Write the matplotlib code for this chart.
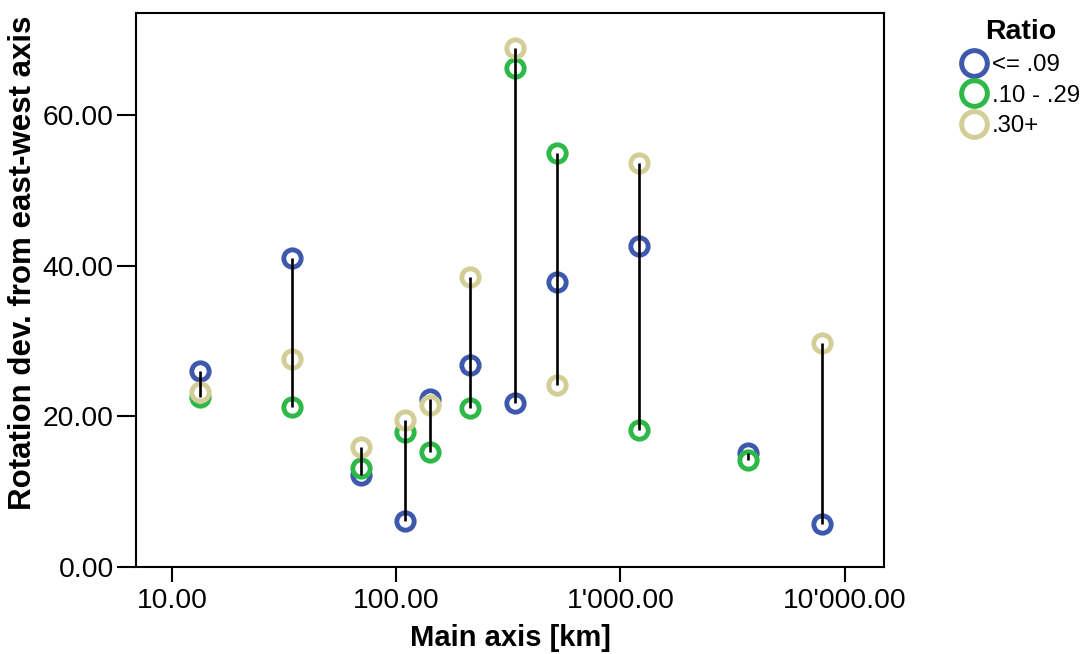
import numpy as np
import matplotlib
matplotlib.use("Agg")
import matplotlib.pyplot as plt
from matplotlib.lines import Line2D
from matplotlib.ticker import FixedLocator, FuncFormatter, NullLocator

plt.rcParams['font.family'] = ['Liberation Sans', 'DejaVu Sans']

# values
main_axis = [13.3, 34.4, 69.5, 110, 141.6, 214, 340, 523, 1207, 3700, 7900]
rot_low = [26.0, 41.1, 12.2, 6.1, 22.3, 26.9, 21.8, 37.9, 42.7, 15.2, 5.7]
rot_mid = [22.6, 21.2, 13.1, 17.9, 15.3, 21.1, 66.3, 55.0, 18.2, 14.2, np.nan]
rot_high = [23.3, 27.6, 15.9, 19.5, 21.5, 38.5, 68.9, 24.2, 53.7, np.nan, 29.7]

series = [
    ("<= .09", rot_low, "#3E58AC"),
    (".10 - .29", rot_mid, "#2EB848"),
    (".30+", rot_high, "#D3CE97"),
]
x_ticks = [10, 100, 1000, 10000]
y_ticks = [0, 20, 40, 60]

fig = plt.figure(figsize=(10.91, 6.54), dpi=100)
ax = fig.add_axes([0.1247, 0.1330, 0.6856, 0.8471])

# markers first, then the range lines on top
for name, vals, col in series:
    ax.plot(main_axis, vals, linestyle="none", marker="o", ms=12.5, mew=3.5,
            mec=col, mfc="white", zorder=2)

stack = np.array([rot_low, rot_mid, rot_high])
ax.vlines(main_axis, np.nanmin(stack, axis=0), np.nanmax(stack, axis=0),
          color="black", lw=1.9, zorder=3)

ax.set_xscale("log")
ax.set_xlim(6.92, 15000)
ax.set_ylim(0, 73.6)
ax.xaxis.set_major_locator(FixedLocator(x_ticks))
ax.xaxis.set_minor_locator(NullLocator())
ax.xaxis.set_major_formatter(FuncFormatter(lambda v, p: f"{v:,.2f}".replace(",", "'")))
ax.yaxis.set_major_locator(FixedLocator(y_ticks))
ax.yaxis.set_major_formatter(FuncFormatter(lambda v, p: f"{v:.2f}"))

ax.tick_params(axis="both", labelsize=20.3, width=1.5, color="black")
ax.tick_params(axis="y", length=14, pad=2)
ax.tick_params(axis="x", length=11, pad=4)
for s in ax.spines.values():
    s.set_linewidth(1.5)

ax.set_xlabel("Main axis [km]", fontsize=21, fontweight="bold")
ax.set_ylabel("Rotation dev. from east-west axis", fontsize=22.5, fontweight="bold")
ax.xaxis.set_label_coords(0.5, -0.103)
ax.yaxis.set_label_coords(-0.131, 0.55)

handles = [Line2D([], [], linestyle="none", marker="o", ms=18.5, mew=3.6,
                  mec=col, mfc="white", label=name) for name, vals, col in series]
leg = fig.legend(handles=handles, title="Ratio", loc="upper left",
                 bbox_to_anchor=(0.873, 0.985), frameon=False, fontsize=17.3,
                 title_fontproperties={"size": 20.5, "weight": "bold"},
                 handlelength=1.0, handletextpad=0.25, labelspacing=0.36,
                 borderaxespad=0)

fig.savefig("out.png", dpi=100)
